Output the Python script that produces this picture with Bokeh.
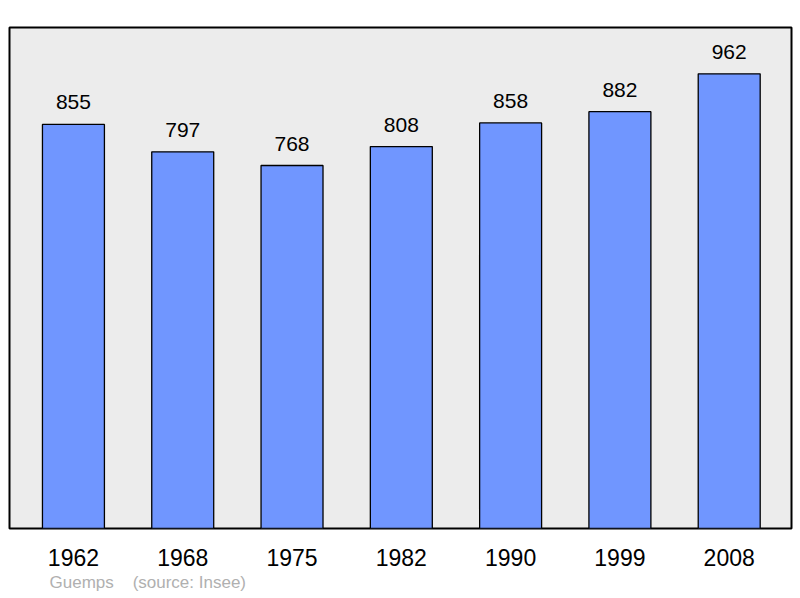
from bokeh.plotting import figure
from bokeh.models import ColumnDataSource, Range1d, Title
from bokeh.core.properties import value
from bokeh.embed import file_html
from bokeh.resources import INLINE

# Population data (Guemps, source: Insee)
years = ["1962", "1968", "1975", "1982", "1990", "1999", "2008"]
population = [855, 797, 768, 808, 858, 882, 962]

idx = list(range(len(years)))
source = ColumnDataSource(data=dict(x=idx, pop=population, label=[str(v) for v in population]))

p = figure(width=800, height=598, output_backend="svg", toolbar_location=None,
           x_range=Range1d(-0.585, 6.57), y_range=Range1d(0, 1060),
           min_border_left=9, min_border_right=9, min_border_top=27, min_border_bottom=70)

p.background_fill_color = "#ececec"
p.border_fill_color = "white"
p.outline_line_color = "black"
p.outline_line_width = 2
p.grid.visible = False
p.yaxis.visible = False

p.vbar(x="x", top="pop", width=0.567, source=source, fill_color="#7096ff",
       line_color="black", line_width=1.3)

p.text(x="x", y="pop", text="label", source=source, y_offset=-22,
       text_align="center", text_baseline="alphabetic",
       text_font_size="21px", text_color="black", text_font=value("Liberation Sans"))

ax = p.xaxis[0]
ax.ticker = idx
ax.major_label_overrides = {i: y for i, y in zip(idx, years)}
ax.axis_line_color = None
ax.major_tick_line_color = None
ax.minor_tick_line_color = None
ax.major_label_text_font_size = "23px"
ax.major_label_text_font = "Liberation Sans"
ax.major_label_text_color = "black"
ax.major_label_standoff = 14

# source note under the axis
footer = Title(text="Guemps\u00a0\u00a0\u00a0\u00a0(source: Insee)", align="left", offset=40,
               text_font_size="17px", text_font="Liberation Sans", text_font_style="normal",
               text_color="#b0b0b0", standoff=5)
p.add_layout(footer, "below")

open("out.html", "w").write(file_html(p, INLINE))
